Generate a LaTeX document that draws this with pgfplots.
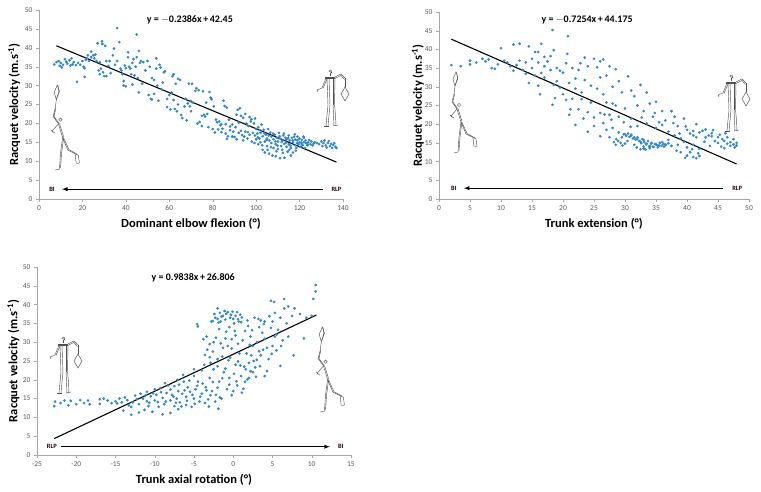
\documentclass[border=0pt]{standalone}
\usepackage{pgfplots}
\pgfplotsset{compat=1.18}
\usepackage{pgfplotstable}
\usepackage{fontspec}
\setmainfont{Carlito}
\definecolor{ptblue}{HTML}{2E86D1}
\definecolor{axgray}{HTML}{A6A6A6}
\definecolor{tickgray}{HTML}{595959}
\definecolor{figgray}{HTML}{505050}

\pgfplotstableread{
x y
7 35.6
8 36.2
9 36.5
9.5 35.2
10 36
10.5 34.8
11 35.5
12 37
12.5 36.3
13 35.8
14 36.7
14.5 35.3
15 37.2
15.5 35.6
16 36.2
17 35.4
17.5 31
18 36
19 35.5
20 36.5
20.5 35
21 32.3
21 34.6
21.5 36.8
22 37.2
22.5 38
23 36.5
24 39
24 37.5
25 38
25.5 37.2
26 38.2
26.5 36.5
27 41.2
27.5 34
28 36.2
28 33
28.5 34.5
29 41.7
29.2 41
29.5 33.5
30 32.5
30.5 40.5
31 36.5
31 32.5
32 35.2
32.5 36.5
33 33.3
34 38
34.5 39.8
35 35.5
36 45.2
36 36.5
37 41.5
37.5 34.5
38 34
38.5 33
39 31.2
39 30
39.5 35.3
40 29.8
40 34.6
41 37.5
41 38.8
41.5 35
42 34.5
42.5 33
43 36
43 30.3
43.5 37
44 32.7
44.5 35
45 43.5
45 37.5
45.5 32
46 39.2
46 28.2
46.5 36
47 36.5
47.5 30.5
48 36.2
49 34
50 36.5
50.5 27.5
51 35
51.5 26.5
52 32
52 26.3
53 27.8
53 31.5
54 37.2
54 34.5
54.5 30
55 26
55.5 35.5
56 34.8
56.5 29
57 30.8
57.5 33.5
58 33.8
59 26.5
59 24.3
60 27.5
60.5 23.7
61 28.2
61.5 32.5
62 33
62 26.2
62.5 23.8
63 30.5
63.5 23.2
64 25
64 31.8
65 31.5
65.5 22.2
66 21.4
67 24.5
67.5 26.5
68 20.8
68.5 25.3
69 30.5
69.5 24.5
70 23.2
70 25.9
70.5 30.5
71 25.5
72 28.6
72.5 29.3
73 20
73.5 28.8
74 20.4
75 19.3
75 22
75.5 28.5
76 22.3
76.5 21.8
77 25.5
77.5 22.5
78 19
78.5 28.3
79 26.8
79.5 26.4
80 18.5
80.5 24.5
81 17.6
81.5 21
82 20.3
83 20.5
83.5 19.5
84 17.7
84.5 18.6
85 26
85.5 24.6
86 17.3
86 19.8
86.5 24.2
87 16.6
87.5 21
88 19.2
89 19.7
89.5 17.8
90 16.4
90.5 19
91 22.3
91.5 23.6
92 17.5
92 20.2
93 18
93 22
94 15.5
94 21.5
94.5 16.5
95 17.8
95.5 20
96 16
96.5 19.3
97 21.7
97 17
97.5 20.5
98 15.2
98.5 17.5
99 20
99.5 16.8
100 15.8
100 18.5
100.5 17.3
101 14.5
101 19
101.5 16
102 17.5
102 15
102.5 19.7
103 13
103 16.6
103.5 18.3
104 15.2
104 12.3
104.5 17
105 16
105 14
105.5 18.5
106 15.5
106 12
106.5 17.6
107 14.8
107 16.5
107.5 11.5
108 15.8
108 13.5
108.5 17
109 14.5
109 11.3
109.5 16.2
110 15.2
110 13.2
110.5 17.5
111 10.8
111 16
111.5 14
112 15.5
112 13
112.5 16.8
113 10.9
113 14.6
113.5 16.2
114 13.8
114 15.8
114.5 12.5
115 16.8
115 14.5
115.5 15.5
116 11.5
116 13.5
116.5 16.2
117 15
117 12.3
117.5 16.5
118 14.2
118 15.7
118.5 13.5
119 15.5
119 16.5
119.5 14.5
120 15
120 16
120.5 13.8
121 14.5
121 15.6
121.5 14.2
122 15
122 16.2
122.5 13.5
123 14.8
123.5 14.2
124 15
125 14.5
126 14.2
127 15
128 14.8
129 14.5
130 15.2
130.5 14
131 14.8
131.5 15.5
132 14.2
132.5 13.6
133 14.8
133.5 15.3
134 14
134.5 14.6
135 13.5
135.5 14.3
136 14.8
136.5 13.8
137 13.5
100.8 16.3
101.8 18.2
102.8 14.2
103.8 17.4
104.8 15.6
105.8 16.8
106.8 13.7
107.8 17.3
108.8 15.2
109.8 14.1
110.8 16.6
111.8 15.1
112.8 17.3
113.8 14.9
114.8 16.1
115.8 14.1
116.8 15.5
117.8 17.1
118.8 14.8
119.8 15.9
120.8 14.9
121.8 16.5
122.8 15.5
123.8 14.4
124.5 15.6
125.5 15.2
126.5 14.7
118.3 12.8
115.3 13.0
112.3 12.2
109.3 12.6
105.3 13.0
99.2 14.8
96.2 17.7
93.5 16.9
91 15.8
89 16.5
88 18.2
86.5 15.9
84 19.8
82.5 18.4
95 22.5
97.8 21.1
92.5 24
99.5 21.3
}\dataA

\pgfplotstableread{
x y
2 35.8
3.5 35.5
5 36
5 37
6 36.5
7 37.5
7.5 36.8
8 37.3
8.5 35
9 34.8
9.5 36
10 40.3
10.5 37
11 36.5
11.5 35.5
12 41.3
12 34.3
12.5 35.8
13 41.5
13 37
13.5 34.5
14 36.5
14 33.5
14.5 40.8
14.5 31
15 37.5
15 35
15.5 39.3
15.5 33
16 39.3
16 36.5
16 30.3
16.3 28
16.5 41.5
16.5 33.7
17 38
17 35.5
17 32.5
17.5 36.8
18 34.5
18 38.2
18.3 45.2
18.3 25.2
18.5 39.8
18.5 30.5
18.7 27
19 35
19 31.5
19.5 29.8
19.5 34.3
20 28
20 33.8
20.5 36.3
20.5 26.5
20.8 43.5
20.7 38.8
21 22.5
21 31
21.2 24
21.5 35
21.5 26.8
22 32.2
22 29.5
22 19.8
22.5 34.5
22.5 24
22.8 36.3
23 28.5
23 26.7
23.3 21.5
23.5 37.8
23.5 31.8
24 35.5
24 23.2
24 18
24.5 30.3
24.5 25.8
25 37.5
25 21.8
25 19.5
25.5 35.2
25.5 29.5
26 36.8
26 32.5
26 23
26 16.8
26.5 37.3
26.5 28
26.5 20.3
27 33
27 25.8
27 18.5
27.5 35.5
27.5 22.5
27.5 16.5
28 30
28 25.5
28 19
28.2 15.2
28.5 34.7
28.5 25
28.5 14.5
29 31.5
29 22
29 17.8
29.3 15
29.5 28.5
29.5 16.5
30 24.2
30 17.3
30 14.8
30.5 32.8
30.5 17.5
31 29
31 21.5
31 16.9
31.5 27.5
31.5 16.5
32 25
32 16
32 19.5
32.5 30.5
32.5 15.3
32.5 13.3
33 23.5
33 15.8
33 14
33.3 13.2
33.5 28.5
33.5 20.2
33.5 14.8
34 25.5
34 14.2
34 13.6
34.3 15
34.5 22
34.5 14
35 26
35 19
35 14.6
35.3 13.8
35.5 20.5
35.5 14.3
36 23.5
36 15.2
36.3 14
36.5 21
36.5 14.6
37 18
37 15.8
37.5 23.5
37.5 14.2
38 22
38 17
38.5 19.5
38.5 14.5
39 16.2
39 12.5
39.5 21.5
39.5 15.3
39.7 11
40 18.5
40 13.8
40 11.6
40.5 17.5
40.5 12.5
41 18.2
41 14.5
41 11.2
41.5 20
41.5 16.5
41.8 12.2
42 13.4
42 11.5
42 17.8
42.5 18.2
43 18.6
43 16.5
43.5 17
44 17.6
44 16.8
44.5 15.5
45 16.5
45 15
45.3 17.2
45.5 14
45.7 16
46 15.5
46 13.6
46.5 16.5
46.5 14.8
47 15.2
47 14.2
47.5 16
47.5 14.6
48 15
48 14.3
29.8 17.3
30.2 16.9
30.7 16.6
31.0 17.2
31.3 16.2
31.7 15.9
32.0 16.5
32.3 15.5
32.6 14.9
32.8 16.0
33.1 15.2
33.4 14.6
33.7 15.5
33.9 14.0
34.2 14.8
34.6 13.9
34.8 14.7
35.2 14.3
35.6 15.0
35.9 14.2
36.2 14.7
36.6 14.4
37.0 14.9
31.9 13.8
33.0 13.5
30.4 15.5
31.5 14.5
29.6 14.3
28.9 15.5
28.6 16.0
26.7 22.6
27.8 21.2
29.8 20.5
30.9 19.3
32.7 21.8
34.8 23.0
36.0 19.8
37.8 20.3
38.8 17.5
39.8 19.4
41.0 17.0
42.8 15.3
43.7 14.2
44.2 18.4
46.2 17.6
47.7 13.8
38.3 12.9
40.8 13.3
41.5 10.9
}\dataB

\pgfplotstableread{
x y
-22.8 13
-22.7 14.2
-22 13.8
-21.5 14.5
-21 13.2
-20.7 14.4
-20 13.5
-19.5 14.6
-19 13.8
-18.5 14.5
-18.3 13.5
-17 14.8
-17 13.6
-16.5 15
-16 14.5
-15.5 13.8
-15 14.3
-14.8 13.7
-14.5 15
-14.2 14
-14 11.8
-13.8 15.3
-13.5 14.6
-13.3 13.2
-13 12.8
-13 10.7
-12.8 14
-12.5 15.8
-12.3 14.8
-12 11.3
-12 13.5
-11.8 16.3
-11.5 15
-11.3 12
-11 14.3
-11 16.8
-10.8 13
-10.5 15.6
-10.3 11.5
-10 17.5
-10 14.5
-9.8 16
-9.5 12.8
-9.3 17.8
-9 15.2
-9 10.8
-8.8 13.5
-8.5 16.5
-8.3 18.5
-8 14.5
-8 11.2
-7.8 16
-7.5 13
-7.5 18.3
-7.2 15
-7 17
-7 12.2
-6.8 14
-6.5 16.3
-6.3 19.5
-6 15.5
-6 13.3
-5.8 18
-5.5 16.8
-5.3 12.8
-5 21
-5 15
-4.8 17.5
-4.6 34.8
-4.5 34.2
-4.5 19.5
-4.3 14.2
-4 22.5
-4 16.3
-3.8 30.8
-3.7 24
-3.5 18
-3.3 28
-3.2 14.8
-3 26
-3 20.5
-2.8 35.5
-2.7 17
-2.5 30
-2.5 22.8
-2.3 36.5
-2.2 16
-2 39
-2 25.5
-1.8 33.5
-1.8 19.5
-1.6 35.5
-1.5 15
-1.3 37
-1.3 28.5
-1.2 22
-1 36
-1 31
-0.8 17.5
-0.7 38
-0.6 25.2
-0.5 34
-0.5 20.5
-0.3 37.3
-0.2 28.3
0 36.2
0 17
0.2 33
0.3 24
0.5 38
0.5 18.5
0.7 35.5
0.8 27
1 35.3
1 21
1.2 30.5
1.4 23.5
1.5 33
1.5 19.5
1.7 27
1.8 35.8
2 24.5
2 20.5
2.2 31.5
2.3 26.5
2.5 29
2.5 22
2.7 36.5
2.8 23.3
3 30
3 25.3
3.3 34
3.5 26.5
3.5 35.8
3.8 28
4 21
4 35.5
4.3 28.5
4.5 25.5
4.8 41
4.8 33.8
5 29
5 35.5
5.2 40.7
5.3 37.8
5.5 32
5.5 27.8
6 23.7
6 36.5
6.3 30.5
6.5 41.5
6.5 39
6.8 35
7 31.5
7 39.5
7.5 37
7.7 26.5
7.8 39
8.5 37.5
9 31
9.3 36.5
10 37
10.2 41.5
10.5 43.5
10.5 45.2
-2.4 37.5
-2.0 36.2
-1.7 37.8
-1.5 36.8
-1.1 38.3
-0.9 37.5
-0.4 36.5
-0.1 38.1
0.3 37.0
0.6 36.1
0.9 37.3
1.1 36.6
-2.6 35.6
-1.9 35.2
0.1 35.0
-3.4 31.5
-3.0 29.5
-2.6 27.5
-2.2 31.2
-1.6 29.7
-1.4 26.2
-0.9 32.8
-0.7 29.0
-0.2 30.8
0.3 31.8
-3.6 26.6
-2.9 24.5
-2.0 23.6
-0.4 25.9
0.6 29.6
1.9 34.3
2.4 33.2
3.2 36.2
3.9 34.8
4.6 36.9
2.1 29.3
3.3 27.6
4.0 30.9
2.6 25.0
3.4 23.6
4.3 22.3
1.6 22.8
2.9 20.8
5.7 33.3
6.1 29.0
5.3 31.5
4.9 26.9
3.7 32.5
-8.0 17.4
-7.6 15.5
-7.3 13.9
-6.9 18.7
-6.6 12.9
-6.2 17.2
-5.9 14.4
-5.6 19.8
-5.2 16.0
-4.9 13.6
-4.6 18.4
-4.2 15.5
-3.9 19.0
-3.6 13.8
-3.4 17.2
-2.9 15.9
-2.6 19.4
-2.3 14.2
-2.0 17.9
-1.7 15.3
-8.6 14.2
-9.2 16.7
-9.6 14.1
-10.2 16.4
-10.7 13.9
-11.2 15.8
-6.4 21.3
-5.0 22.8
-7.1 20.0
-8.7 19.1
-3.1 12.9
-1.9 12.3
-1.0 23.0
-0.5 18.7
0.1 21.6
0.4 19.6
0.9 23.8
1.3 17.6
1.8 20.1
2.2 22.3
1.1 16.6
-0.2 15.9
0.6 24.9
-1.4 20.4
}\dataC

\pgfplotsset{
  every axis/.append style={
    scale only axis, clip=false,
    axis lines*=left,
    axis line style={draw=axgray,-},
    tick style={draw=axgray, major tick length=3pt},
    tick align=outside,
    ymin=0, ymax=50, ytick={0,5,...,50},
    tick label style={font=\fontsize{7.5}{9}\selectfont, text=tickgray},
    /pgf/number format/assume math mode=true,
    label style={font=\fontsize{12.5}{14}\selectfont\bfseries},
    ylabel={Racquet velocity (m.s\textsuperscript{-1})},
  },
  pts/.style={only marks, mark=*, mark size=1.15pt, color=ptblue},
  reg/.style={black, line width=1.1pt, no marks},
}
\tikzset{
  eqlab/.style={font=\fontsize{10}{12}\selectfont\bfseries},
  endlab/.style={font=\fontsize{6.5}{8}\selectfont\bfseries, text=black!85!red},
  arrs/.style={-latex, line width=0.9pt, black},
}

\newcommand{\bifig}[3]{%
\begin{scope}[shift={(#1,#2)}, xscale=#3, yscale=-#3, figgray, line width=0.45pt]
  \draw (7,0) -- (9,6) -- (6,14) -- (4,7) -- cycle;
  \draw (7.6,0.5) -- (8.5,6) -- (6.3,13);
  \draw (6,14) -- (5,22);
  \draw (5,22) -- (3,30) -- (8,37);
  \draw (5.6,22) -- (3.8,30) -- (8.6,36.5);
  \draw (10,33) circle (1.6);
  \draw (8,37) -- (12,50); \draw (9,36.5) -- (13,49.5);
  \draw (8,37) -- (2,44) -- (5,46);
  \draw (1,43) -- (3,45);
  \draw (12,50) -- (10,65) -- (9,80) -- (5,81);
  \draw (13,50) -- (11,65) -- (10,79);
  \draw (12,50) -- (17,62) -- (27,67) -- (28,74) -- (26,75);
  \draw (13,50.5) -- (18,61.5) -- (26,66);
  \draw (24,66) -- (25,75);
\end{scope}}

\newcommand{\rlpfig}[3]{%
\begin{scope}[shift={(#1,#2)}, xscale=#3, yscale=-#3, figgray, line width=0.45pt]
  \draw (12,1) -- (14,0) -- (15,3) -- cycle;
  \draw (13,3) -- (13,6);
  \draw (8,7) -- (18,7); \draw (8,8.5) -- (18,8.5);
  \draw (9,8) -- (5,18) -- (0,20) -- (1,22);
  \draw (10,9) -- (6,18.5);
  \draw (18,7) -- (24,4) -- (28,8);
  \draw (18,8.5) -- (24,5.5) -- (27.5,9.5);
  \draw (28,8) -- (28,17);
  \draw (28,17) -- (32,24) -- (28,31) -- (24,24) -- cycle;
  \draw (10,8) -- (11,35); \draw (12,8) -- (13,35);
  \draw (16,8) -- (16,35); \draw (18,8) -- (17.5,35);
  \draw (11,35) -- (10,45) -- (9,56); \draw (13,35) -- (12,45) -- (11,56);
  \draw (16,35) -- (16.5,45) -- (17,56); \draw (17.5,35) -- (18.5,45) -- (19,56);
  \draw (7,56) -- (12,56); \draw (16,56) -- (21,55);
\end{scope}}

\begin{document}
\begin{tikzpicture}[x=1pt,y=1pt]
\useasboundingbox (0,0) rectangle (761,492);

% Plot 1
\begin{axis}[at={(39pt,293pt)}, anchor=south west, width=304pt, height=189pt,
  xmin=0, xmax=140, xtick={0,20,...,140},
  xlabel={Dominant elbow flexion (°)},
  x label style={at={(axis description cs:0.5,-0.085)}, anchor=north},
  y label style={at={(axis description cs:-0.082,0.5)}, anchor=center},
]
\addplot[pts] table {\dataA};
\addplot[reg] coordinates {(8,40.54) (137,9.76)};
\node[eqlab] at (axis cs:69.5,47.4) {y = $-$0.2386x\,+\,42.45};
\node[endlab] at (axis cs:6,2.6) {BI};
\node[endlab] at (axis cs:137,2.6) {RLP};
\draw[arrs] (axis cs:130.8,2.6) -- (axis cs:10.6,2.6);
\end{axis}

% Plot 2
\begin{axis}[at={(439pt,293pt)}, anchor=south west, width=310pt, height=187pt,
  xmin=0, xmax=50, xtick={0,5,...,50},
  xlabel={Trunk extension (°)},
  x label style={at={(axis description cs:0.5,-0.085)}, anchor=north},
  y label style={at={(axis description cs:-0.068,0.5)}, anchor=center},
]
\addplot[pts] table {\dataB};
\addplot[reg] coordinates {(2,42.72) (48,9.36)};
\node[eqlab] at (axis cs:23.9,47.9) {y = $-$0.7254x\,+\,44.175};
\node[endlab] at (axis cs:2.4,2.9) {BI};
\node[endlab] at (axis cs:48.1,2.9) {RLP};
\draw[arrs] (axis cs:45.8,2.9) -- (axis cs:4.0,2.9);
\end{axis}

% Plot 3
\begin{axis}[at={(37pt,37pt)}, anchor=south west, width=314pt, height=188pt,
  xmin=-25, xmax=15, xtick={-25,-20,...,15},
  xlabel={Trunk axial rotation (°)},
  x label style={at={(axis description cs:0.5,-0.085)}, anchor=north},
  y label style={at={(axis description cs:-0.075,0.5)}, anchor=center},
]
\addplot[pts] table {\dataC};
\addplot[reg] coordinates {(-22.8,4.37) (10.6,37.23)};
\node[eqlab] at (axis cs:-5.1,47.1) {y = 0.9838x\,+\,26.806};
\node[endlab] at (axis cs:-23.1,2.2) {RLP};
\node[endlab] at (axis cs:13.7,2.2) {BI};
\draw[arrs] (axis cs:-21.9,2.2) -- (axis cs:12.3,2.2);
\end{axis}

% stick figures (decoration)
\bifig{50}{407}{1.05}
\rlpfig{317}{422}{1.0}
\bifig{449}{420}{1.0}
\rlpfig{718}{417}{1.0}
\rlpfig{50}{155}{1.0}
\bifig{315}{165}{1.05}
\end{tikzpicture}
\end{document}
